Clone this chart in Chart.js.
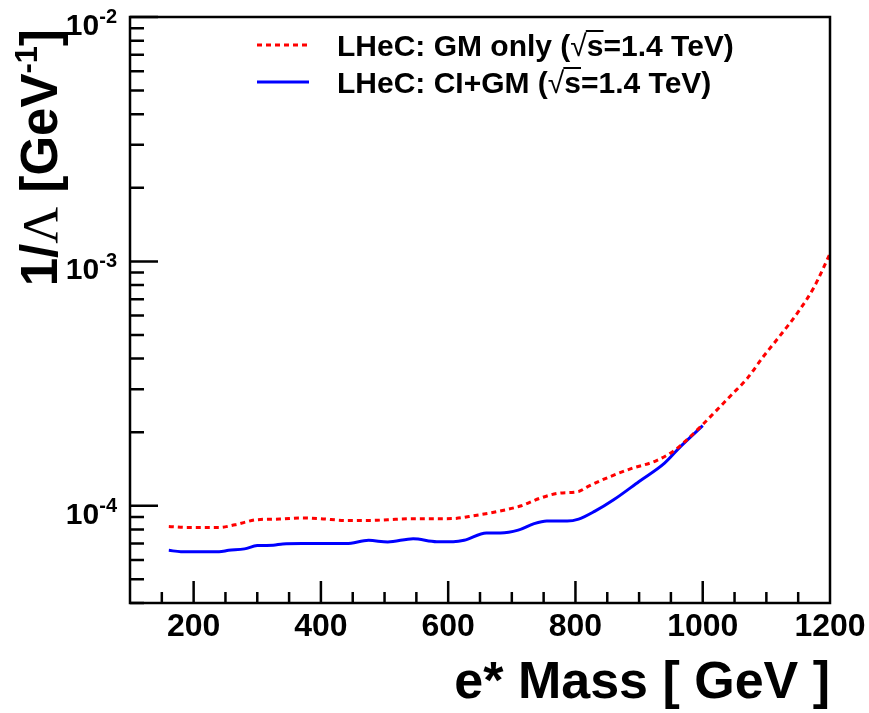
<!DOCTYPE html>
<html>
<head>
<meta charset="utf-8">
<script src="https://cdn.jsdelivr.net/npm/chart.js@4"></script>
<style>
  body { margin: 0; background: #fff; }
  #wrap { width: 869px; height: 713px; }
</style>
</head>
<body>
<div id="wrap"><canvas id="chart" width="869" height="713"></canvas></div>
<script>
// e* mass [GeV] and 1/Lambda limit [GeV^-1]
const massGM = [161, 190, 240, 265, 300, 335, 370, 400, 440, 480, 505, 545, 590, 610, 640, 680, 715, 745, 775, 805, 820, 855, 890, 925, 955, 975, 1000, 1020, 1045, 1070, 1095, 1120, 1150, 1175, 1200];
const limitGM = [8.23e-5, 8.15e-5, 8.15e-5, 8.36e-5, 8.77e-5, 8.82e-5, 8.91e-5, 8.85e-5, 8.71e-5, 8.71e-5, 8.77e-5, 8.85e-5, 8.85e-5, 8.87e-5, 9.1e-5, 9.5e-5, 1.0e-4, 1.075e-4, 1.127e-4, 1.144e-4, 1.2e-4, 1.318e-4, 1.426e-4, 1.52e-4, 1.68e-4, 1.86e-4, 2.15e-4, 2.43e-4, 2.84e-4, 3.32e-4, 4.07e-4, 4.91e-4, 6.21e-4, 7.85e-4, 1.075e-3];

const massCI = [161, 180, 240, 255, 280, 300, 325, 340, 370, 440, 475, 505, 545, 582, 608, 625, 660, 682, 710, 735, 755, 787, 805, 830, 860, 900, 940, 965, 1000];
const limitCI = [6.57e-5, 6.49e-5, 6.49e-5, 6.57e-5, 6.66e-5, 6.87e-5, 6.89e-5, 6.98e-5, 7.0e-5, 7.0e-5, 7.22e-5, 7.11e-5, 7.33e-5, 7.13e-5, 7.13e-5, 7.22e-5, 7.74e-5, 7.74e-5, 7.95e-5, 8.45e-5, 8.66e-5, 8.66e-5, 8.82e-5, 9.48e-5, 1.058e-4, 1.257e-4, 1.494e-4, 1.746e-4, 2.127e-4];

const seriesNames = ["LHeC: GM only (", "LHeC: CI+GM ("];
const xTickValues = [200, 400, 600, 800, 1000, 1200];
const yTickExps = [-4, -3, -2];

const toPoints = (xs, ys) => xs.map((x, i) => ({ x: x, y: ys[i] }));

const SANS = '"Liberation Sans", Arial, sans-serif';

// ROOT style frame, inward ticks, labels, titles and legend
const rootStyle = {
    id: "rootStyle",
    afterDatasetsDraw(chart) {
        const ctx = chart.ctx;
        const a = chart.chartArea;
        const xs = chart.scales.x;
        const ys = chart.scales.y;
        ctx.save();
        ctx.strokeStyle = "#000";
        ctx.fillStyle = "#000";
        ctx.lineWidth = 2.5;
        ctx.strokeRect(a.left, a.top, a.right - a.left, a.bottom - a.top);

        // x ticks
        ctx.beginPath();
        for (let v = 150; v < xs.max; v += 50) {
            const px = xs.getPixelForValue(v);
            const len = v % 200 === 0 ? 22 : 11;
            ctx.moveTo(px, a.bottom);
            ctx.lineTo(px, a.bottom - len);
        }
        // y ticks (log)
        for (let e = -5; e <= -2; e++) {
            for (let k = 1; k <= 9; k++) {
                const v = k * Math.pow(10, e);
                if (v < ys.min * 0.999 || v > ys.max * 1.001) continue;
                const py = ys.getPixelForValue(v);
                const len = k === 1 ? 28 : 14;
                ctx.moveTo(a.left, py);
                ctx.lineTo(a.left + len, py);
            }
        }
        ctx.stroke();

        // x tick labels
        ctx.font = "bold 32px " + SANS;
        ctx.textAlign = "center";
        ctx.textBaseline = "alphabetic";
        xTickValues.forEach(v => {
            ctx.fillText(String(v), xs.getPixelForValue(v), a.bottom + 33);
        });

        // y tick labels 10^n
        yTickExps.forEach(e => {
            const py = ys.getPixelForValue(Math.pow(10, e));
            ctx.font = "bold 20px " + SANS;
            const sup = String(e);
            const wSup = ctx.measureText(sup).width;
            ctx.textAlign = "left";
            const right = a.left - 13;
            ctx.fillText(sup, right - wSup, py + 6);
            ctx.font = "bold 30px " + SANS;
            ctx.textAlign = "right";
            ctx.fillText("10", right - wSup, py + 18);
        });

        // x title
        ctx.font = "bold 52px " + SANS;
        ctx.textAlign = "right";
        ctx.fillText("e* Mass [ GeV ]", a.right, 698);

        // y title, rotated, ending near the top of the frame
        ctx.save();
        ctx.translate(57, a.top + 12);
        ctx.rotate(-Math.PI / 2);
        const parts = [
            { t: "1/", f: "bold 51px " + SANS, dy: 0 },
            { t: "\u039B", f: "51px \"Liberation Serif\", serif", dy: 0 },
            { t: " [GeV", f: "bold 51px " + SANS, dy: 0 },
            { t: "-1", f: "bold 31px " + SANS, dy: -20 },
            { t: "]", f: "bold 51px " + SANS, dy: 0 }
        ];
        let total = 0;
        parts.forEach(p => { ctx.font = p.f; p.w = ctx.measureText(p.t).width; total += p.w; });
        let cx = -total;
        ctx.textAlign = "left";
        parts.forEach(p => { ctx.font = p.f; ctx.fillText(p.t, cx, p.dy); cx += p.w; });
        ctx.restore();

        // legend
        const legendY = [45, 82];
        chart.data.datasets.forEach((ds, i) => {
            const y = legendY[i];
            ctx.save();
            ctx.strokeStyle = ds.borderColor;
            ctx.lineWidth = ds.borderWidth;
            ctx.setLineDash(ds.borderDash || []);
            ctx.beginPath();
            ctx.moveTo(257, y);
            ctx.lineTo(309, y);
            ctx.stroke();
            ctx.restore();

            ctx.font = "bold 30px " + SANS;
            ctx.textAlign = "left";
            let tx = 337;
            const base = y + 11;
            ctx.fillText(seriesNames[i], tx, base);
            tx += ctx.measureText(seriesNames[i]).width;
            ctx.font = "30px " + SANS;
            ctx.fillText("\u221A", tx, base);
            const wr = ctx.measureText("\u221A").width;
            tx += wr;
            ctx.font = "bold 30px " + SANS;
            const ws = ctx.measureText("s").width;
            ctx.fillText("s", tx, base);
            ctx.beginPath();
            ctx.lineWidth = 2;
            ctx.moveTo(tx - 1, base - 25);
            ctx.lineTo(tx + ws, base - 25);
            ctx.stroke();
            tx += ws;
            ctx.fillText("=1.4 TeV)", tx, base);
        });
        ctx.restore();
    }
};

new Chart(document.getElementById("chart"), {
    type: "line",
    data: {
        datasets: [
            {
                label: "LHeC: GM only",
                data: toPoints(massGM, limitGM),
                borderColor: "#ff0000",
                borderWidth: 3,
                borderDash: [5, 4],
                pointRadius: 0,
                fill: false,
                cubicInterpolationMode: "monotone"
            },
            {
                label: "LHeC: CI+GM",
                data: toPoints(massCI, limitCI),
                borderColor: "#0000ff",
                borderWidth: 3,
                pointRadius: 0,
                fill: false,
                cubicInterpolationMode: "monotone"
            }
        ]
    },
    options: {
        responsive: false,
        animation: false,
        layout: { padding: { left: 130, right: 39, top: 17, bottom: 110 } },
        plugins: { legend: { display: false }, tooltip: { enabled: false } },
        scales: {
            x: { type: "linear", min: 100, max: 1200, display: false },
            y: { type: "logarithmic", min: 4e-5, max: 1e-2, display: false }
        }
    },
    plugins: [rootStyle]
});
</script>
</body>
</html>
